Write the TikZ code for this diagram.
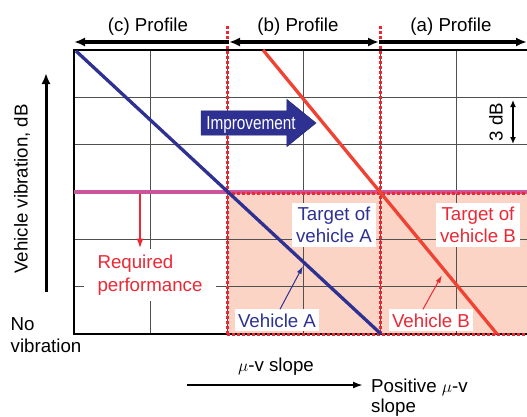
\documentclass[tikz,border=0pt]{standalone}
\usepackage{fontspec}
\setmainfont{Liberation Sans}
\usetikzlibrary{arrows.meta,positioning,shapes.arrows}
\definecolor{navy}{RGB}{46,49,146}
\definecolor{slopered}{RGB}{239,66,50}
\definecolor{limitred}{RGB}{236,40,52}
\definecolor{reqline}{RGB}{204,84,156}
\definecolor{okzone}{RGB}{251,212,198}
\definecolor{gridgray}{RGB}{80,80,80}
\tikzset{
  plaintext/.style={
    inner sep=0pt,
    font=\fontsize{18.7}{22}\selectfont
  },
  tagbox/.style={
    fill=white,
    align=center,
    inner xsep=4pt,
    inner ysep=4pt,
    font=\fontsize{18.7}{22}\selectfont
  },
  gridline/.style={
    draw=gridgray,
    line width=0.9pt
  },
  limitline/.style={
    draw=limitred,
    line width=3pt,
    dash pattern=on 2.6pt off 2.4pt
  },
  slopeline/.style={
    line width=3.3pt
  },
  spanarrow/.style={
    line width=3.2pt,
    -{Latex[length=11pt,width=9pt]}
  },
  pointer/.style={
    -{Latex[length=8pt,width=5pt]},
    line width=1pt
  }
}

\begin{document}
\begin{tikzpicture}[x=1pt,y=-1pt]
  \useasboundingbox (0,0) rectangle (527,416);

  % acceptable zone
  \fill[okzone] (227,193) rectangle (527,334);

  % grid
  \foreach \gx in {1,...,5}
    \draw[gridline] (74+76.5*\gx,50) -- (74+76.5*\gx,334);
  \foreach \gy in {1,...,5}
    \draw[gridline] (74,50+47.33*\gy) -- (527,50+47.33*\gy);
  \draw[line width=1.1pt] (527,50) -- (74,50) -- (74,334) -- (527,334);

  % required level and profile borders
  \coordinate (reqL) at (74,192);
  \coordinate (reqR) at (527,192);
  \draw[draw=reqline, line width=4pt] (reqL) -- (reqR);
  \draw[limitline] (227,26) -- (227,334);
  \draw[limitline] (380,26) -- (380,334);
  \draw[limitline] (227,193) -- (527,193);
  \draw[limitline] (227,334) -- (527,334);

  % vehicles
  \coordinate (blueTop) at (76,51);
  \coordinate (blueEnd) at (381,334);
  \coordinate (redTop) at (263,50);
  \coordinate (redEnd) at (497,334);
  \draw[slopeline, navy] (blueTop) -- (blueEnd);
  \draw[slopeline, slopered] (redTop) -- (redEnd);

  % improvement arrow
  \node[single arrow, fill=navy, draw=navy!70!black, line width=0.4pt,
        minimum height=115pt, single arrow head extend=11.5pt,
        single arrow tip angle=78, text height=12pt, text depth=0pt,
        inner ysep=6pt, inner xsep=2pt, text=white,
        font=\fontsize{18.7}{22}\selectfont] (improve) at (251,123)
        {\scalebox{0.82}[1]{Improvement}};

  % 3 dB step
  \node[plaintext, rotate=90] (step3) at (496,122) {3 dB};
  \coordinate (dbTop) at (513,100);
  \coordinate (dbBot) at (513,144);
  \draw[line width=1.5pt, {Latex[length=7pt,width=6pt]}-{Latex[length=7pt,width=6pt]}] (dbTop) -- (dbBot);

  % labels inside the chart
  \node[tagbox, text=navy] (targetA) at (334,225) {Target of\\vehicle A};
  \node[tagbox, text=limitred] (targetB) at (478,225) {Target of\\vehicle B};
  \node[tagbox, text=navy, inner xsep=3pt, anchor=base] (vehA) at (277,327) {Vehicle A};
  \node[tagbox, text=limitred, inner xsep=3pt, anchor=base] (vehB) at (431,327) {Vehicle B};
  \node[tagbox, text=limitred, align=left, inner xsep=14pt, inner ysep=6pt,
        font=\fontsize{18.7}{23}\selectfont] (req) at (150,275) {Required\\performance};

  \coordinate (tipA) at (303,266);
  \coordinate (tipB) at (442,275);
  \coordinate (reqFrom) at (140,194);
  \draw[pointer, navy] ([xshift=3pt]vehA.north) -- (tipA);
  \draw[pointer, limitred] ([xshift=-8pt]vehB.north) -- (tipB);
  \draw[-{Latex[length=10pt,width=7pt]}, line width=2pt, limitred] (reqFrom) -- (reqFrom |- req.north);

  % profile spans
  \coordinate (spanL) at (74,42);
  \coordinate (spanB) at (229,42);
  \coordinate (spanA) at (379,42);
  \coordinate (spanR) at (527,42);
  \draw[spanarrow] (spanB) -- (spanL);
  \draw[spanarrow, {Latex[length=11pt,width=9pt]}-{Latex[length=11pt,width=9pt]}] (spanB) -- (spanA);
  \draw[spanarrow] (spanA) -- (spanR);
  \node[plaintext, anchor=base] (profC) at (148,31) {(c) Profile};
  \node[plaintext, anchor=base] (profB) at (298,31) {(b) Profile};
  \node[plaintext, anchor=base] (profA) at (451,31) {(a) Profile};

  % axes
  \coordinate (vibLow) at (46,292);
  \coordinate (vibHigh) at (46,73);
  \draw[line width=3pt, -{Latex[length=11pt,width=9pt]}] (vibLow) -- (vibHigh);
  \node[plaintext, rotate=90] (vibLabel) at (22,189) {Vehicle vibration, dB};
  \node[plaintext, align=left, anchor=north west] (novib) at (10.5,317.6) {No\\vibration};

  \coordinate (slopeL) at (187,385);
  \coordinate (slopeR) at (363,385);
  \draw[line width=2.6pt, -{Latex[length=10pt,width=7pt]}] (slopeL) -- (slopeR);
  \node[plaintext, anchor=base] (slopeLabel) at (276,371) {$\mu$-v slope};
  \node[plaintext, align=left, anchor=north west, font=\fontsize{18.7}{20.5}\selectfont]
    (posSlope) at (371,378.5) {Positive $\mu$-v\\slope};
\end{tikzpicture}
\end{document}
